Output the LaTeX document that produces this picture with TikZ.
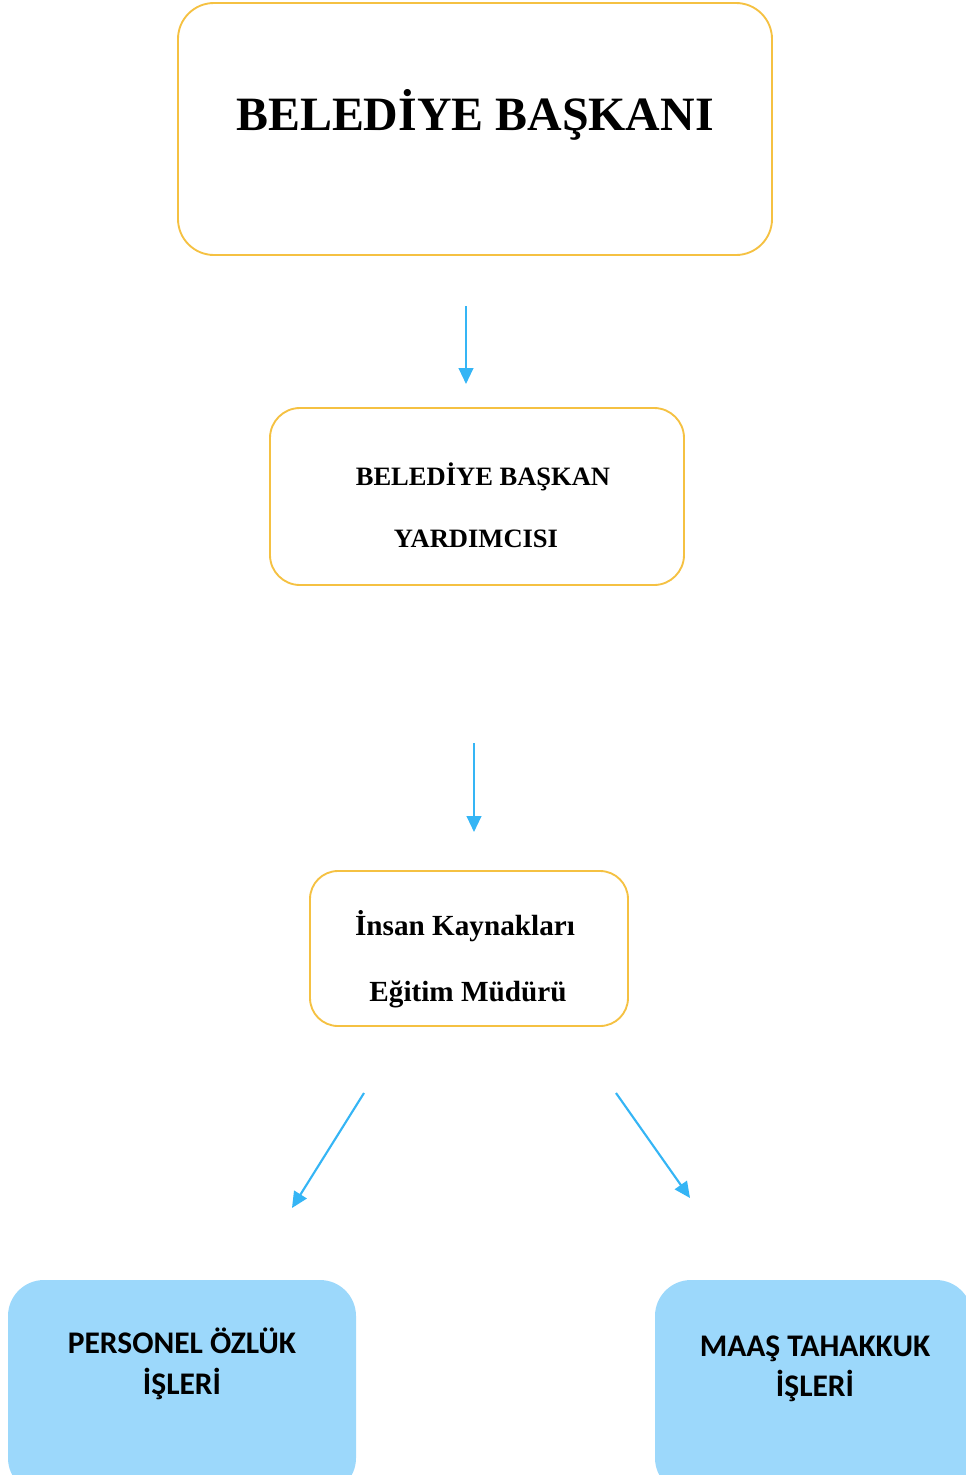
\documentclass[tikz,border=0pt]{standalone}
\usepackage{fontspec}
\setmainfont{Liberation Serif}
\newfontfamily\unitfont{Carlito}
\usepackage{xcolor}
\definecolor{OrgGold}{HTML}{F5C142}
\definecolor{OrgBlue}{HTML}{35B5F5}
\definecolor{UnitFill}{HTML}{9CD8FB}
\usetikzlibrary{arrows.meta, positioning}

\begin{document}
\begin{tikzpicture}[
    x=0.75pt, y=-0.75pt,
    >={Triangle[length=12pt, width=11pt]},
    % Styles
    office/.style={rectangle, draw=OrgGold, line width=1.4pt, fill=white},
    unit/.style={rectangle, draw=none, fill=UnitFill, rounded corners=27pt, minimum width=261pt, minimum height=160.5pt},
    link/.style={->, OrgBlue, line width=1.6pt},
    head_text/.style={inner sep=0pt, anchor=base, font=\bfseries\fontsize{35.9}{43}\selectfont},
    office_text/.style={inner sep=0pt, anchor=base, font=\bfseries\fontsize{19.9}{24}\selectfont},
    dept_text/.style={inner sep=0pt, anchor=base, font=\bfseries\fontsize{21.9}{26}\selectfont},
    unit_text/.style={inner sep=0pt, anchor=base, font=\unitfont\bfseries\fontsize{23.6}{28}\selectfont}
]
    \useasboundingbox (0,0) rectangle (966,1475);
    \clip (0,0) rectangle (966,1475);

    % 1. BELEDIYE BASKANI
    \node[office, rounded corners=27pt, minimum width=445.5pt, minimum height=189pt] (mayor) at (475,129) {};
    \node[head_text] (mayor_t) at (475,130) {BELEDİYE BAŞKANI};

    % 2. BASKAN YARDIMCISI
    \node[office, rounded corners=22.5pt, minimum width=310.5pt, minimum height=132.75pt] (deputy) at (477,496.5) {};
    \node[office_text] (deputy_t1) at (483,485) {BELEDİYE BAŞKAN};
    \node[office_text] (deputy_t2) at (476,547) {YARDIMCISI};

    % 3. INSAN KAYNAKLARI
    \node[office, rounded corners=21pt, minimum width=238.5pt, minimum height=116.25pt] (director) at (469,948.5) {};
    \node[dept_text] (director_t1) at (465,935) {İnsan Kaynakları};
    \node[dept_text] (director_t2) at (468,1001) {Eğitim Müdürü};

    % 4. UNITS
    \node[unit] (personnel) at (182,1387) {};
    \node[unit_text] (personnel_t1) at (182,1353) {PERSONEL ÖZLÜK};
    \node[unit_text] (personnel_t2) at (182,1394) {İŞLERİ};

    \node[unit, minimum width=237.75pt] (payroll) at (813.5,1387) {};
    \node[unit_text] (payroll_t1) at (815,1356) {MAAŞ TAHAKKUK};
    \node[unit_text] (payroll_t2) at (815,1396) {İŞLERİ};

    % Arrows
    \coordinate (a1s) at (466,306);
    \coordinate (a1e) at (466,384);
    \coordinate (a2s) at (474,743);
    \coordinate (a2e) at (474,832);
    \coordinate (a3s) at (364,1093);
    \coordinate (a3e) at (292,1208);
    \coordinate (a4s) at (616,1093);
    \coordinate (a4e) at (690,1198);
    \draw[link] (a1s) -- (a1e);
    \draw[link] (a2s) -- (a2e);
    \draw[link] (a3s) -- (a3e);
    \draw[link] (a4s) -- (a4e);

\end{tikzpicture}
\end{document}
